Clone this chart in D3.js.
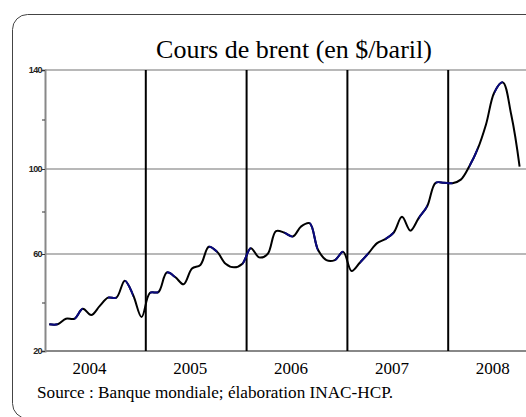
<!DOCTYPE html>
<html>
<head>
<meta charset="utf-8">
<script src="https://cdn.jsdelivr.net/npm/d3@7"></script>
<style>
  body { margin: 0; background: #fff; }
  svg { display: block; }
</style>
</head>
<body>
<div id="chart"></div>
<script>
// monthly brent price, jan 2004 -> sep 2008
var years = ["2004", "2005", "2006", "2007", "2008"]
var price2004 = [31, 31, 33.3, 33.3, 37.4, 34.8, 38.5, 42, 42, 49, 43, 34]
var price2005 = [44, 44.3, 52.4, 50.5, 47.5, 54, 55.5, 63.4, 61, 56, 54.5, 56]
var price2006 = [62.7, 58.6, 60, 70.8, 70, 68.2, 73, 74.5, 62, 57.5, 57.5, 61]
var price2007 = [53, 56.5, 60.3, 65, 67, 70, 77.5, 71, 77, 82.5, 93.5, 93.5]
var price2008 = [93.3, 95, 101, 108, 118, 131, 135, 122, 101]
var yTicks = [20, 40, 60, 80, 100, 120, 140]
var yLabels = [20, 60, 100, 140]
// segments (start month index) that are drawn in blue in the original
var blueSegments = [0, 3, 7, 9, 12, 14, 19, 23, 28, 31, 34, 37, 40, 44, 46, 47, 50, 53]

var prices = [].concat(price2004, price2005, price2006, price2007, price2008)

var width = 526
var height = 417

var svg = d3.select("#chart")
  .append("svg")
  .attr("width", width)
  .attr("height", height)

// rounded frame, cut by the right and bottom edges
svg.append("rect")
  .attr("x", 12.5)
  .attr("y", 14.5)
  .attr("width", 540)
  .attr("height", 404)
  .attr("rx", 15)
  .attr("fill", "none")
  .attr("stroke", "#444")
  .attr("stroke-width", 1)

// month index -> x (the plot runs past the right edge)
var x = d3.scaleLinear()
  .domain([0, 60])
  .range([45, 549])

// the original axis is not quite linear
var y = d3.scaleLinear()
  .domain([20, 60, 100, 140])
  .range([351, 254, 169, 70])

svg.append("text")
  .attr("x", 294)
  .attr("y", 58)
  .attr("text-anchor", "middle")
  .style("font-family", "'Liberation Serif', 'Times New Roman', serif")
  .style("font-size", "26px")
  .text("Cours de brent (en $/baril)")

// gridlines
svg.append("g")
  .selectAll("line")
  .data([60, 100, 140])
  .enter()
  .append("line")
  .attr("x1", x(0))
  .attr("x2", width)
  .attr("y1", function(d) { return y(d) })
  .attr("y2", function(d) { return y(d) })
  .attr("stroke", "#a0a0a0")
  .attr("stroke-width", 1.5)

// y axis
var yAxis = d3.axisLeft(y)
  .tickValues(yTicks)
  .tickSize(3)
  .tickFormat(function(d) { return yLabels.indexOf(d) >= 0 ? d : "" })

var gy = svg.append("g")
  .attr("transform", "translate(" + x(0) + ",0)")
  .call(yAxis)
gy.select(".domain").attr("stroke", "#888").attr("stroke-width", 2)
gy.selectAll(".tick line").attr("stroke", "#333")
gy.selectAll(".tick text")
  .attr("x", -3)
  .style("font-family", "'Liberation Sans Narrow', 'Liberation Sans', Arial, sans-serif")
  .style("font-size", "9px")
  .style("font-weight", "bold")
  .style("letter-spacing", "-0.6px")
  .attr("fill", "#222")

// x baseline
svg.append("line")
  .attr("x1", x(0))
  .attr("x2", width)
  .attr("y1", y(20))
  .attr("y2", y(20))
  .attr("stroke", "#888")
  .attr("stroke-width", 2)

// year separators
svg.append("g")
  .selectAll("line")
  .data(years.slice(1))
  .enter()
  .append("line")
  .attr("x1", function(d, i) { return x((i + 1) * 12) })
  .attr("x2", function(d, i) { return x((i + 1) * 12) })
  .attr("y1", y(140))
  .attr("y2", y(20))
  .attr("stroke", "#000")
  .attr("stroke-width", 2)

// year labels
svg.append("g")
  .selectAll("text")
  .data(years)
  .enter()
  .append("text")
  .attr("x", function(d, i) { return x(i * 12 + 5.3) })
  .attr("y", 374)
  .attr("text-anchor", "middle")
  .style("font-family", "'Liberation Serif', 'Times New Roman', serif")
  .style("font-size", "17px")
  .text(function(d) { return d })

// price line
var line = d3.line()
  .x(function(d, i) { return x(i + 0.5) })
  .y(function(d) { return y(d) })
  .curve(d3.curveCatmullRom.alpha(0.5))

svg.append("path")
  .datum(prices)
  .attr("d", line)
  .attr("fill", "none")
  .attr("stroke", "#000")
  .attr("stroke-width", 2)

// blue bits: same path, clipped to single segments
var defs = svg.append("defs")
blueSegments.forEach(function(s) {
  defs.append("clipPath")
    .attr("id", "seg" + s)
    .append("rect")
    .attr("x", x(s + 0.5))
    .attr("y", 0)
    .attr("width", x(s + 1.5) - x(s + 0.5))
    .attr("height", height)
  svg.append("path")
    .datum(prices)
    .attr("d", line)
    .attr("clip-path", "url(#seg" + s + ")")
    .attr("fill", "none")
    .attr("stroke", "#0a0a80")
    .attr("stroke-width", 2)
})

// source
svg.append("text")
  .attr("x", 37)
  .attr("y", 398)
  .style("font-family", "'Liberation Serif', 'Times New Roman', serif")
  .style("font-size", "17.2px")
  .text("Source : Banque mondiale; élaboration INAC-HCP.")
</script>
</body>
</html>
